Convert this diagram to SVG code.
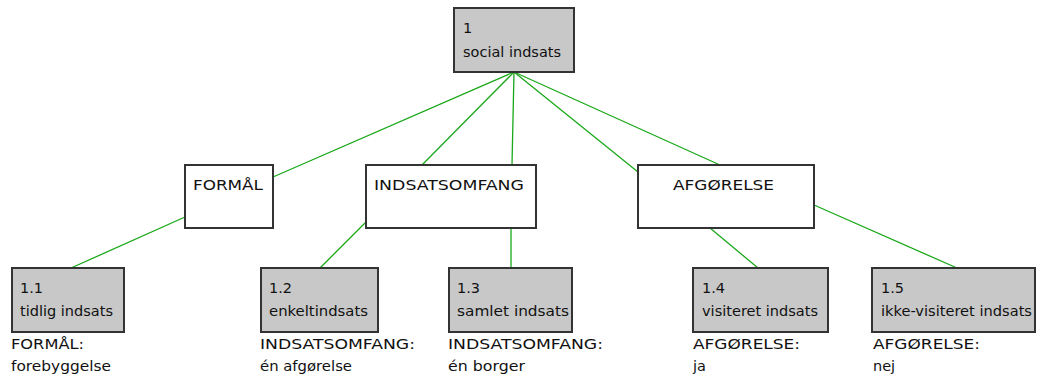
<svg xmlns="http://www.w3.org/2000/svg" width="1038" height="379" viewBox="0 0 1038 379">
<style>
.box{fill:#ffffff;stroke:#333333;stroke-width:2}
.leaf{fill:#c8c8c8;stroke:#333333;stroke-width:2}
.conn line{stroke:#1aa81a;stroke-width:1.3}
text{font-family:"DejaVu Sans",Verdana,sans-serif;font-size:14.5px;fill:#111111}
</style>
<rect width="1038" height="379" fill="#ffffff"/>
<g id="connectors" class="conn">
<line x1="514" y1="72" x2="273" y2="177"/>
<line x1="514" y1="72" x2="422" y2="165"/>
<line x1="514" y1="72" x2="512" y2="165"/>
<line x1="514" y1="72" x2="638" y2="172"/>
<line x1="514" y1="72" x2="720" y2="165"/>
<line x1="185" y1="217" x2="71" y2="268"/>
<line x1="366" y1="222" x2="320" y2="268"/>
<line x1="511" y1="228" x2="511" y2="268"/>
<line x1="710" y1="228" x2="758" y2="268"/>
<line x1="814" y1="205" x2="957" y2="268"/>
</g>
<g id="n1">
<rect class="leaf" x="454" y="8" width="120" height="64"/>
<text x="463" y="33">1</text>
<text x="463" y="57" textLength="98" lengthAdjust="spacingAndGlyphs">social indsats</text>
</g>
<g id="formaal">
<rect class="box" x="185" y="165" width="88" height="63"/>
<text x="193" y="190" textLength="70" lengthAdjust="spacingAndGlyphs">FORMÅL</text>
</g>
<g id="indsatsomfang">
<rect class="box" x="366" y="165" width="170" height="63"/>
<text x="374" y="190" textLength="150" lengthAdjust="spacingAndGlyphs">INDSATSOMFANG</text>
</g>
<g id="afgoerelse">
<rect class="box" x="638" y="165" width="176" height="63"/>
<text x="673" y="190" textLength="101" lengthAdjust="spacingAndGlyphs">AFGØRELSE</text>
</g>
<g id="n1_1">
<rect class="leaf" x="12" y="268" width="112" height="64"/>
<text x="20" y="293">1.1</text>
<text x="20" y="316" textLength="93" lengthAdjust="spacingAndGlyphs">tidlig indsats</text>
<text x="11" y="349" textLength="73" lengthAdjust="spacingAndGlyphs">FORMÅL:</text>
<text x="11" y="371" textLength="100" lengthAdjust="spacingAndGlyphs">forebyggelse</text>
</g>
<g id="n1_2">
<rect class="leaf" x="261" y="268" width="117" height="64"/>
<text x="269" y="293">1.2</text>
<text x="269" y="316" textLength="99" lengthAdjust="spacingAndGlyphs">enkeltindsats</text>
<text x="260" y="349" textLength="155" lengthAdjust="spacingAndGlyphs">INDSATSOMFANG:</text>
<text x="260" y="371" textLength="92" lengthAdjust="spacingAndGlyphs">én afgørelse</text>
</g>
<g id="n1_3">
<rect class="leaf" x="449" y="268" width="123" height="64"/>
<text x="457" y="293">1.3</text>
<text x="457" y="316" textLength="112" lengthAdjust="spacingAndGlyphs">samlet indsats</text>
<text x="448" y="349" textLength="155" lengthAdjust="spacingAndGlyphs">INDSATSOMFANG:</text>
<text x="448" y="371" textLength="77" lengthAdjust="spacingAndGlyphs">én borger</text>
</g>
<g id="n1_4">
<rect class="leaf" x="693" y="268" width="135" height="64"/>
<text x="702" y="293">1.4</text>
<text x="702" y="316" textLength="116" lengthAdjust="spacingAndGlyphs">visiteret indsats</text>
<text x="693" y="349" textLength="107" lengthAdjust="spacingAndGlyphs">AFGØRELSE:</text>
<text x="693" y="371">ja</text>
</g>
<g id="n1_5">
<rect class="leaf" x="872" y="268" width="163" height="64"/>
<text x="881" y="293">1.5</text>
<text x="881" y="316" textLength="151" lengthAdjust="spacingAndGlyphs">ikke-visiteret indsats</text>
<text x="873" y="349" textLength="107" lengthAdjust="spacingAndGlyphs">AFGØRELSE:</text>
<text x="873" y="371">nej</text>
</g>
</svg>
